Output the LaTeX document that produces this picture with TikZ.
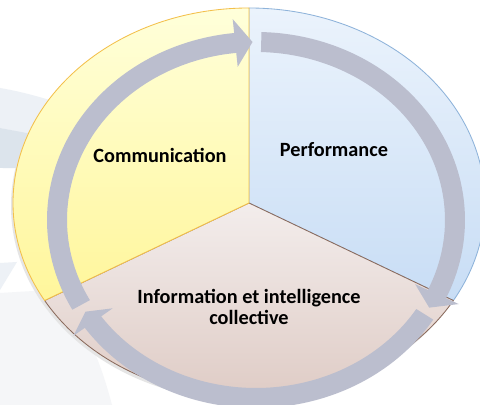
\documentclass[tikz,border=0pt]{standalone}
\usepackage{fontspec}
\setmainfont{Carlito}
\usetikzlibrary{calc,positioning}

\definecolor{commtop}{HTML}{FFFFDA}
\definecolor{commbottom}{HTML}{FFF69B}
\definecolor{commline}{HTML}{F3C04B}
\definecolor{perftop}{HTML}{EBF3FC}
\definecolor{perfbottom}{HTML}{C8DDF5}
\definecolor{perfline}{HTML}{8EB3DA}
\definecolor{infotop}{HTML}{F3EDEC}
\definecolor{infobottom}{HTML}{DCC7C0}
\definecolor{infoline}{HTML}{8A6A5C}
\definecolor{bandgray}{HTML}{BBBECE}
\definecolor{haze}{HTML}{EDF1F6}
\definecolor{hazedark}{HTML}{DCE4EC}
\definecolor{hazepale}{HTML}{F5F6F8}

% one gray arrow on the ring: #1 tail angle, #2 head base angle, #3 tip angle
\newcommand{\ringarrow}[3]{%
  \fill[arrowband] ($(C)+(#1:209 and 188)$)
    arc[start angle=#1, end angle=#2, x radius=209, y radius=188]
    -- ($(C)+(#2:223 and 202)$) -- ($(C)+(#3:199 and 178)$)
    -- ($(C)+(#2:175 and 154)$) -- ($(C)+(#2:189 and 168)$)
    arc[start angle=#2, end angle=#1, x radius=189, y radius=168] -- cycle;}

\begin{document}
\begin{tikzpicture}
  [x=0.025cm, y=0.025cm,
   sector/.style={line width=0.6pt, line join=round},
   arrowband/.style={fill=bandgray},
   sectortext/.style={font=\fontsize{14.4}{15}\selectfont\bfseries, align=center, text=black}]

  \useasboundingbox (0,0) rectangle (480,405);
  \clip (0,0) rectangle (480,405);
  \fill[white] (0,0) rectangle (480,405);

  \coordinate (O) at (249,202);   % centre of the disc
  \coordinate (C) at (256,185);   % centre of the arrow ring

  % faint shapes behind the disc
  \fill[haze] (0,317) .. controls (30,312) and (60,302) .. (90,292) -- (90,258) -- (0,277) -- cycle;
  \fill[hazedark] (0,277) -- (90,260) -- (90,232) .. controls (50,236) and (20,237) .. (0,237) -- cycle;
  \fill[haze] (0,142) -- (17,143) -- (0,115) -- cycle;
  \fill[hazepale] (0,112) -- (0,0) -- (112,0) .. controls (100,45) and (85,85) .. (50,115) -- cycle;

  % shadow under the disc
  \fill[black!10] ([shift={(-2,-3)}]O) ellipse [x radius=236, y radius=195];

  % the three sectors
  \shade[sector, top color=perftop, bottom color=perfbottom, draw=perfline]
    (O) -- ($(O)+(-30:236 and 195)$) arc[start angle=-30, end angle=90, x radius=236, y radius=195] -- cycle;
  \shade[sector, top color=infotop, bottom color=infobottom, draw=infoline]
    (O) -- ($(O)+(210:236 and 195)$) arc[start angle=210, end angle=330, x radius=236, y radius=195] -- cycle;
  \shade[sector, top color=commtop, bottom color=commbottom, draw=commline]
    (O) -- ($(O)+(90:236 and 195)$) arc[start angle=90, end angle=210, x radius=236, y radius=195] -- cycle;

  % cycle arrows
  \ringarrow{328}{215}{211}
  \ringarrow{88.5}{-24.6}{-29.5}
  \ringarrow{208.5}{96}{91}

  \node[sectortext] (comm) at (160,250) {Communication};
  \node[sectortext] (perf) at (334,255) {Performance};
  \node[sectortext] (info) at (249,98) {Information et intelligence\\collective};
\end{tikzpicture}
\end{document}
